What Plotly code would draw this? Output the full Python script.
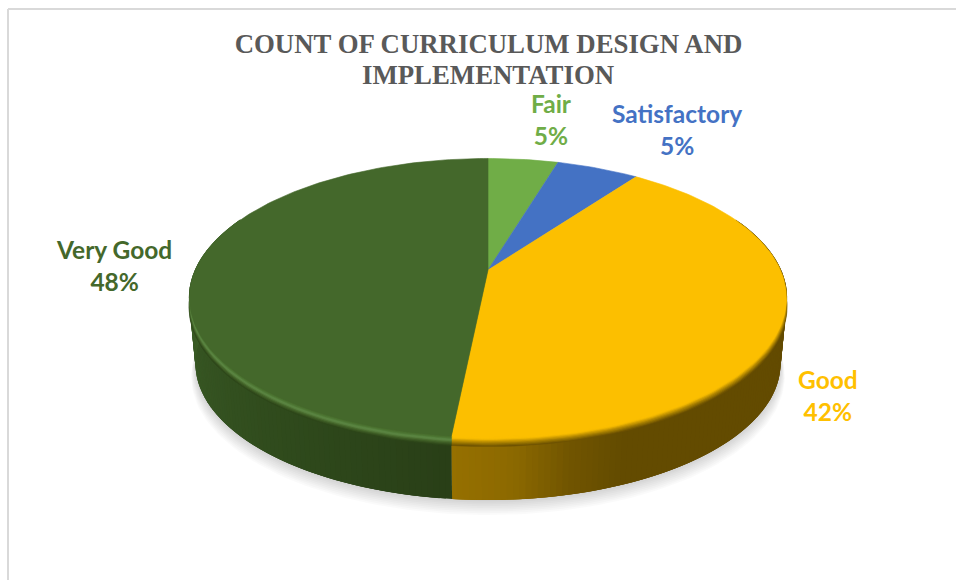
import numpy as np
import plotly.graph_objects as go

# ---- data ----
categories = ["Fair", "Satisfactory", "Good", "Very Good"]
values = [4.6, 5.4, 41.6, 48.4]
slice_colors = ["#70AD47", "#4472C4", "#FCBF00", "#44682B"]
label_colors = ["#70AD47", "#4472C4", "#FFC000", "#44682B"]
title_line_1 = "<b>COUNT OF CURRICULUM DESIGN AND</b>"
title_line_2 = "<b>IMPLEMENTATION</b>"

# ---- style / geometry of the drawn 3-D disc ----
W, H = 956, 580
CX, APEX_Y, MID_Y = 488.0, 270.0, 298.0
A, C, D = -80.4, 0.2, 294.0      # perspective of the disc
DEPTH = 65.5
SHRINK = 0.025
label_pos = {"Fair": (551, 119), "Satisfactory": (677, 129), "Good": (828, 395), "Very Good": (114, 265)}
TITLE_FONT = dict(family="Liberation Serif", size=26.8, color="#595959")


def hex_rgb(h):
    h = h.lstrip("#")
    return np.array([int(h[i:i + 2], 16) for i in (0, 2, 4)], float)


def mix(stops, t):
    ts = [s[0] for s in stops]
    cols = np.array([hex_rgb(s[1]) for s in stops])
    rgb = [np.interp(t, ts, cols[:, i]) for i in range(3)]
    return "rgb(%d,%d,%d)" % tuple(round(c) for c in rgb)


def project(theta_deg, r=1.0, z=0.0, extra=1.0):
    th = np.radians(theta_deg)
    u, v = r * np.sin(th), r * np.cos(th)
    den = 1 + C * v
    X = D * u / den
    Y = (A * v + APEX_Y) / den
    s = (1 - SHRINK * z / DEPTH) * extra
    return CX + s * X, MID_Y + s * (Y - MID_Y) + z


fig = go.Figure()


def poly(x, y, color, lw=0.6):
    fig.add_trace(go.Scatter(
        x=np.round(x, 2), y=np.round(y, 2), mode="lines", fill="toself", fillcolor=color,
        line=dict(color=color, width=lw), hoverinfo="skip", showlegend=False))


# slice angles, clockwise from the top
edges = 3.6 * np.concatenate([[0], np.cumsum(values)])
spans = {c: (edges[i], edges[i + 1]) for i, c in enumerate(categories)}

# soft ground shadow
all_t = np.linspace(0, 360, 241)
for i in range(9):
    k = i / 8
    x, y = project(all_t, z=DEPTH + 12 * (1 - k) + 1, extra=1.0 + 0.02 * (1 - k))
    poly(x, y, "rgba(0,0,0,0.02)", lw=0)

# side wall as overlapping shaded strips, painted from the right round to the left
wall_stops = {
    "Good": [(80, "#634B00"), (158, "#634B00"), (167, "#715500"), (176, "#8C6900"), (186, "#967000")],
    "Very Good": [(186, "#293F17"), (215, "#2F4A1C"), (250, "#375623"), (285, "#3F6429")],
}
for cat, stops in wall_stops.items():
    a, b = spans[cat]
    a, b = max(a, 66), min(b, 294)
    grid = np.arange(a, b, 1.0)
    for t0 in grid:
        seg = np.linspace(t0, min(t0 + 3.0, b), 4)
        x1, y1 = project(seg, r=0.997, z=0)
        x2, y2 = project(seg[::-1], z=DEPTH)
        poly(np.r_[x1, x2], np.r_[y1, y2], mix(stops, t0 + 0.5), lw=0)

# rounded top edge: stacked wedges, from the outer edge to the flat face
bevel_stops = {
    "Good": [(0, "#FCBF00"), (0.3, "#FCBF00"), (0.7, "#A67E00"), (1, "#6E5300")],
    "Very Good": [(0, "#44682B"), (0.3, "#4C7431"), (0.5, "#608C48"), (0.7, "#47692C"), (1, "#2D4619")],
}
for k in np.linspace(1, 0, 10)[:-1]:
    for cat in ("Good", "Very Good"):
        a, b = spans[cat]
        t = np.linspace(a, b, 90)
        x, y = project(t, r=0.99 + 0.01 * k, z=9.0 * k)
        ax, ay = project(0.0, r=0.0, z=9.0 * k)
        poly(np.r_[ax, x, ax], np.r_[ay, y, ay], mix(bevel_stops[cat], k))

# flat top faces
for cat, col in zip(categories, slice_colors):
    a, b = spans[cat]
    t = np.linspace(a, b, max(int(b - a), 8))
    x, y = project(t, r=0.995)
    ax, ay = project(0.0, r=0.0)
    poly(np.r_[ax, x, ax], np.r_[ay, y, ay], col)

for cat, val, col in zip(categories, values, label_colors):
    px, py = label_pos[cat]
    fig.add_annotation(
        x=px, y=py, xref="x", yref="y", showarrow=False, align="center",
        text=f"<b>{cat}<br>{val:.0f}%</b>",
        font=dict(family="Lato", size=24.5, color=col))

# second title line (the line spacing of the reference is tighter than a <br> gives)
fig.add_annotation(x=488, y=75, xref="x", yref="y", showarrow=False,
                   text=title_line_2, font=TITLE_FONT)

fig.update_layout(
    width=W, height=H, autosize=False,
    margin=dict(l=0, r=0, t=0, b=0),
    paper_bgcolor="white", plot_bgcolor="white", showlegend=False,
    title=dict(text=title_line_1, x=488.5 / W, xanchor="center", y=1 - 44 / H, yanchor="middle",
               font=TITLE_FONT),
    xaxis=dict(range=[0, W], visible=False, fixedrange=True),
    yaxis=dict(range=[H, 0], visible=False, fixedrange=True),
    shapes=[
        dict(type="line", xref="x", yref="y", x0=8, x1=8, y0=9, y1=H, line=dict(color="#D9D9D9", width=2)),
        dict(type="line", xref="x", yref="y", x0=8, x1=W, y0=9, y1=9, line=dict(color="#D9D9D9", width=2)),
    ],
)

fig.write_html("out.html", config={"displayModeBar": False},
               post_script="document.body.style.margin='0';")
